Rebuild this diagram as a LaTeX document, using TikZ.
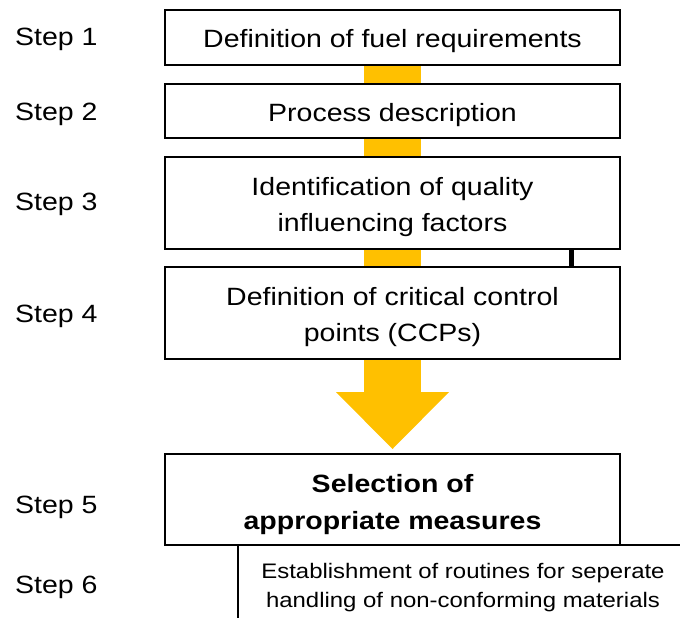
\documentclass[tikz,border=0pt]{standalone}
\usepackage{fontspec}
\setmainfont{Liberation Sans}[FakeStretch=1.14]
\definecolor{gold}{HTML}{FFC000}
\begin{document}
\begin{tikzpicture}[x=1pt,y=-1pt,
  box/.style={draw=black, line width=1.8pt, fill=white, minimum width=455pt,
    inner sep=0pt, outer sep=0pt},
  boxtext/.style={align=center, inner sep=0pt, yshift=-4pt, font=\fontsize{25}{36}\selectfont},
  steplabel/.style={anchor=base west, inner sep=0pt, font=\fontsize{25}{30}\selectfont},
  small/.style={align=center, inner sep=0pt, font=\fontsize{21}{29}\selectfont}]
\useasboundingbox (0,0) rectangle (680,618);
\clip (0,0) rectangle (680,618);
% yellow arrow (behind boxes)
\coordinate (shaftTL) at (364,65);
\coordinate (shaftBR) at (421,392);
\coordinate (headL) at (336,392);
\coordinate (headR) at (449,392);
\coordinate (tip) at (392.5,449);
\fill[gold] (shaftTL) rectangle (shaftBR);
\fill[gold] (headL) -- (headR) -- (tip) -- cycle;
% boxes
\node[box, minimum height=55pt] (b1) at (392.5,37.5) {};
\node[boxtext] (t1) at (b1.center) {Definition of fuel requirements};
\node[box, minimum height=54pt] (b2) at (392.5,111) {};
\node[boxtext] (t2) at (b2.center) {Process description};
\node[box, minimum height=92pt] (b3) at (392.5,203) {};
\node[boxtext] (t3) at (b3.center) {Identification of quality\\influencing factors};
\node[box, minimum height=92pt] (b4) at (392.5,313) {};
\node[boxtext] (t4) at (b4.center) {Definition of critical control\\points (CCPs)};
\node[box, minimum height=91pt] (b5) at (392.5,499.5) {};
\node[boxtext, yshift=-1pt, font=\fontsize{25}{37}\selectfont\bfseries] (t5) at (b5.center) {Selection of\\appropriate measures};
% small black connector
\coordinate (c3) at (571.5,249);
\coordinate (c4) at (571.5,267);
\draw[line width=4.5pt] (c3) -- (c4);
% step 6 box (cropped)
\coordinate (b6bl) at (238,630);
\coordinate (b6tl) at (238,545);
\coordinate (b6tr) at (700,545);
\draw[line width=1.8pt] (b6bl) -- (b6tl) -- (b6tr);
\node[small, yshift=-3pt] (b6) at (463,585) {Establishment of routines for seperate\\handling of non-conforming materials};
% step labels
\node[steplabel] (s1) at (15,46) {Step 1};
\node[steplabel] (s2) at (15,120) {Step 2};
\node[steplabel] (s3) at (15,210) {Step 3};
\node[steplabel] (s4) at (15,322) {Step 4};
\node[steplabel] (s5) at (15,513) {Step 5};
\node[steplabel] (s6) at (15,593) {Step 6};
\end{tikzpicture}
\end{document}
